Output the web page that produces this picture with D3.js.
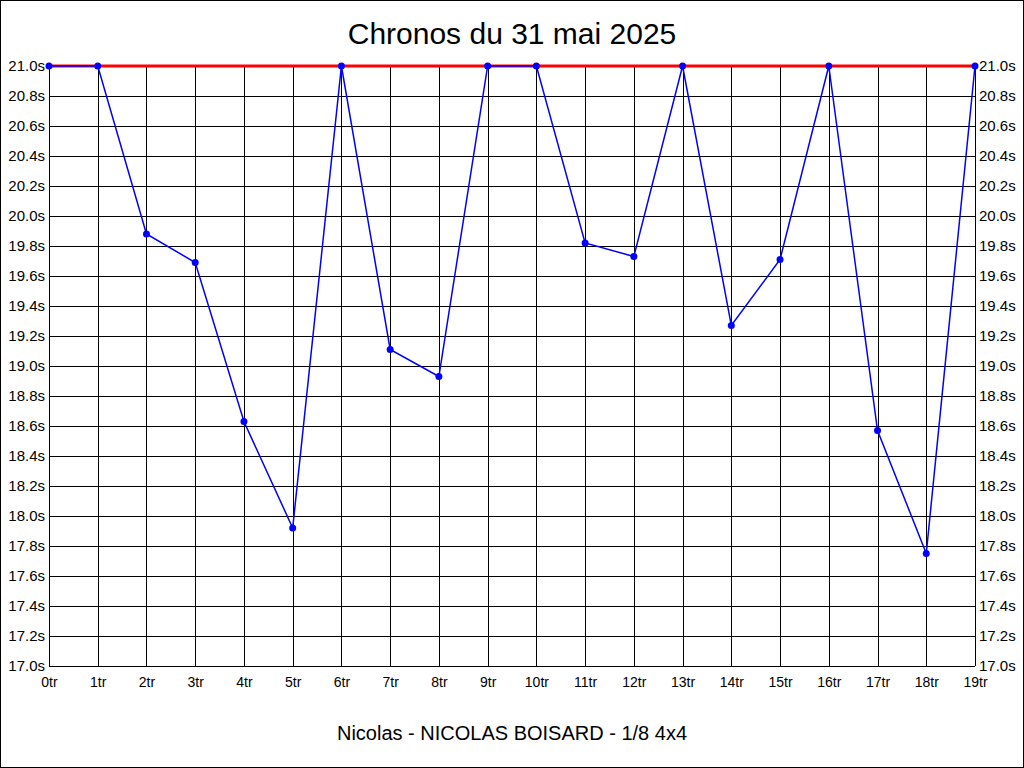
<!DOCTYPE html>
<html>
<head>
<meta charset="utf-8">
<script src="https://cdn.jsdelivr.net/npm/d3@7"></script>
<style>
  body { margin: 0; background: #fff; }
  svg { display: block; font-family: 'Liberation Sans', Arial, sans-serif; }
</style>
</head>
<body>
<svg id="chart" width="1024" height="768"></svg>
<script>
const title = 'Chronos du 31 mai 2025';
const footer = 'Nicolas - NICOLAS BOISARD - 1/8 4x4';

// tours 0..19, temps en secondes
const laps = ['0tr', '1tr', '2tr', '3tr', '4tr', '5tr', '6tr', '7tr', '8tr', '9tr',
  '10tr', '11tr', '12tr', '13tr', '14tr', '15tr', '16tr', '17tr', '18tr', '19tr'];
const times = [21.0, 21.0, 19.88, 19.69, 18.63, 17.92, 21.0, 19.11, 18.93, 21.0,
  21.0, 19.82, 19.73, 21.0, 19.27, 19.71, 21.0, 18.57, 17.75, 21.0];
const yTicks = [17.0, 17.2, 17.4, 17.6, 17.8, 18.0, 18.2, 18.4, 18.6, 18.8, 19.0,
  19.2, 19.4, 19.6, 19.8, 20.0, 20.2, 20.4, 20.6, 20.8, 21.0];
const limit = 21.0;

const svg = d3.select('#chart');
const width = +svg.attr('width');
const height = +svg.attr('height');

const margin = { top: 66, right: 49, bottom: 102, left: 49 };

// cadre
svg.append('rect')
    .attr('x', 0.5)
    .attr('y', 0.5)
    .attr('width', width - 1)
    .attr('height', height - 1)
    .attr('fill', '#fff')
    .attr('stroke', '#000');

const x = d3.scalePoint()
  .domain(laps)
  .range([margin.left, width - margin.right]);

const y = d3.scaleLinear()
  .domain([17, 21])
  .range([height - margin.bottom, margin.top]);

const fmt = d => d3.format('.1f')(d) + 's';

// grille
svg.append('g')
    .attr('class', 'grid')
    .selectAll('line.h')
    .data(yTicks)
    .enter().append('line')
      .attr('x1', margin.left)
      .attr('x2', width - margin.right)
      .attr('y1', d => Math.round(y(d)) + 0.5)
      .attr('y2', d => Math.round(y(d)) + 0.5)
      .attr('stroke', '#000');

svg.append('g')
    .selectAll('line.v')
    .data(laps)
    .enter().append('line')
      .attr('x1', d => Math.round(x(d)) + 0.5)
      .attr('x2', d => Math.round(x(d)) + 0.5)
      .attr('y1', y(17))
      .attr('y2', y(21))
      .attr('stroke', '#000');

// axes
const yLeft = svg.append('g')
    .attr('transform', `translate(${margin.left},0)`)
    .call(d3.axisLeft(y).tickValues(yTicks).tickFormat(fmt).tickSize(0).tickPadding(4));
const yRight = svg.append('g')
    .attr('transform', `translate(${width - margin.right},0)`)
    .call(d3.axisRight(y).tickValues(yTicks).tickFormat(fmt).tickSize(0).tickPadding(4));
const xAxis = svg.append('g')
    .attr('transform', `translate(0,${height - margin.bottom})`)
    .call(d3.axisBottom(x).tickSize(0).tickPadding(11));

[yLeft, yRight].forEach((a) => {
  a.select('.domain').remove();
  a.selectAll('text')
      .attr('font-family', "'Liberation Sans', Arial, sans-serif")
      .attr('font-size', 15)
      .attr('fill', '#000');
});
xAxis.select('.domain').remove();
xAxis.selectAll('text')
    .attr('font-family', "'Liberation Sans', Arial, sans-serif")
    .attr('font-size', 14)
    .attr('fill', '#000');

// limite
svg.append('line')
    .attr('x1', margin.left)
    .attr('x2', width - margin.right)
    .attr('y1', y(limit))
    .attr('y2', y(limit))
    .attr('stroke', '#ff0000')
    .attr('stroke-width', 3);

// courbe
const line = d3.line()
  .x((d, i) => x(laps[i]))
  .y(d => y(d));

svg.append('path')
    .datum(times)
    .attr('d', line)
    .attr('fill', 'none')
    .attr('stroke', '#0000ff')
    .attr('stroke-width', 1.5);

svg.append('g')
    .selectAll('circle')
    .data(times)
    .enter().append('circle')
      .attr('cx', (d, i) => x(laps[i]))
      .attr('cy', d => y(d))
      .attr('r', 3.5)
      .attr('fill', '#0000ff');

// textes
svg.append('text')
    .attr('x', width / 2)
    .attr('y', 44)
    .attr('text-anchor', 'middle')
    .attr('font-size', 30)
    .attr('fill', '#000')
    .text(title);

svg.append('text')
    .attr('x', width / 2)
    .attr('y', 740)
    .attr('text-anchor', 'middle')
    .attr('font-size', 20)
    .attr('fill', '#000')
    .text(footer);
</script>
</body>
</html>
